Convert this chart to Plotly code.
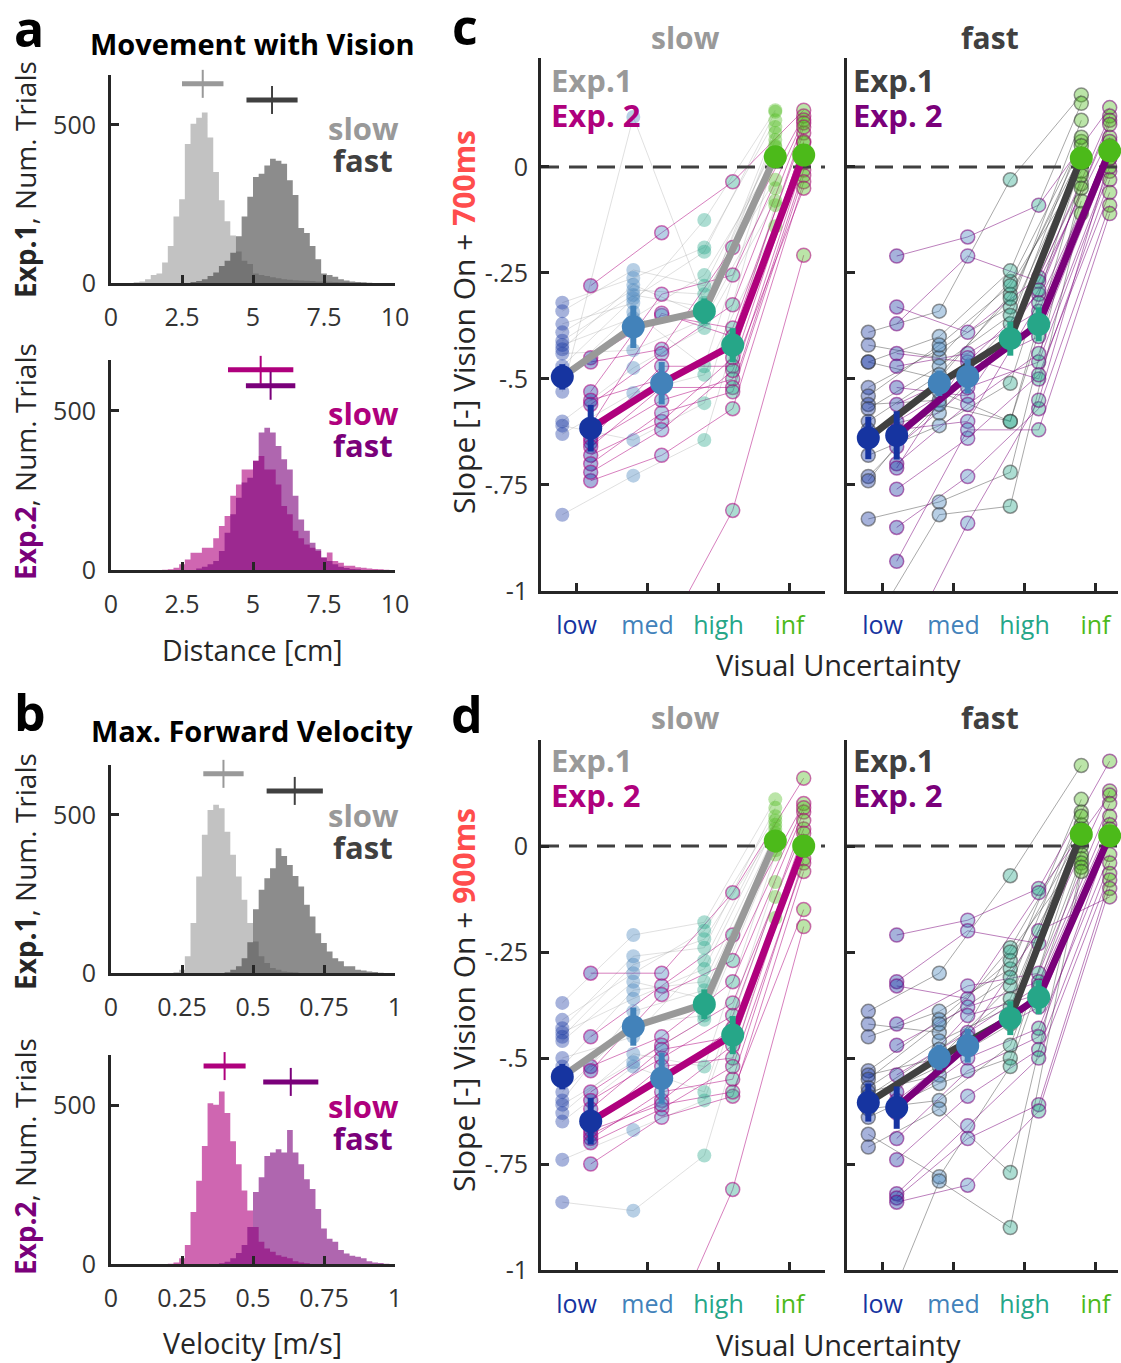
import plotly.graph_objects as go

W, H = 1121, 1363
FONT = "Open Sans"
TXT = "#262626"


def fx(px):
    return px / W


def fy(py):
    return 1 - py / H


# ------------------------------------------------------------------ data
dist_bin = 0.2
vel_bin = 0.02

# Exp.1 distance (cm), 50 bins 0..10
dist_e1_slow = [0, 0, 0, 0, 2, 5, 12, 25, 30, 65, 117, 210, 265, 440, 504, 523, 539, 460, 351, 262,
                195, 150, 100, 70, 60, 30, 25, 22, 18, 15, 12, 10, 9, 8, 7, 6, 5, 5, 4, 3,
                2, 2, 1, 1, 0, 0, 0, 0, 0, 0]
dist_e1_fast = [0, 0, 0, 0, 0, 0, 0, 0, 0, 0, 0, 0, 0, 0, 3, 6, 12, 22, 33, 54,
                70, 96, 148, 210, 273, 335, 346, 372, 393, 387, 377, 325, 278, 174, 158, 117, 75, 30, 25, 20,
                12, 8, 5, 3, 2, 1, 0, 0, 0, 0]
# Exp.2 distance (cm)
dist_e2_slow = [0, 0, 0, 0, 0, 0, 0, 0, 0, 1, 2, 7, 18, 33, 54, 54, 70, 70, 100, 138,
                170, 233, 269, 316, 316, 343, 358, 316, 316, 269, 201, 175, 123, 100, 80, 70, 60, 39, 55, 28,
                23, 13, 13, 9, 7, 5, 3, 2, 1, 0]
dist_e2_fast = [0, 0, 0, 0, 0, 0, 0, 0, 0, 0, 0, 0, 0, 0, 0, 5, 10, 18, 28, 60,
                117, 175, 227, 275, 290, 343, 432, 447, 432, 390, 348, 316, 233, 159, 123, 86, 65, 39, 28, 18,
                10, 6, 3, 2, 0, 0, 0, 0, 0, 0]
# Exp.1 velocity (m/s), 50 bins 0..1
vel_e1_slow = [0, 0, 0, 0, 0, 0, 0, 0, 0, 0, 0, 2, 10, 53, 158, 305, 437, 516, 532, 521,
               447, 374, 305, 232, 158, 100, 53, 32, 16, 10, 5, 3, 2, 0, 0, 0, 0, 0, 0, 0,
               0, 0, 0, 0, 0, 0, 0, 0, 0, 0]
vel_e1_fast = [0, 0, 0, 0, 0, 0, 0, 0, 0, 0, 0, 0, 0, 0, 0, 0, 0, 0, 0, 0,
               2, 10, 21, 47, 97, 202, 263, 300, 331, 395, 370, 342, 307, 274, 216, 179, 126, 95, 68, 47,
               37, 21, 21, 10, 8, 5, 3, 1, 0, 0]
# Exp.2 velocity (m/s)
vel_e2_slow = [0, 0, 0, 0, 0, 0, 0, 0, 0, 0, 1, 5, 18, 60, 164, 263, 373, 508, 503, 545,
               477, 388, 315, 232, 169, 117, 70, 49, 39, 28, 23, 18, 9, 5, 2, 0, 0, 0, 0, 0,
               0, 0, 0, 0, 0, 0, 0, 0, 0, 0]
vel_e2_fast = [0, 0, 0, 0, 0, 0, 0, 0, 0, 0, 0, 0, 0, 0, 0, 0, 0, 0, 0, 2,
               7, 18, 35, 60, 117, 227, 274, 341, 352, 362, 352, 423, 352, 315, 268, 237, 174, 112, 80, 70,
               44, 33, 26, 23, 18, 9, 5, 3, 1, 0]

# mean and SD of each histogram (slow, fast)
dist_e1_mean = [3.23, 5.67]
dist_e1_sd = [0.73, 0.9]
dist_e2_mean = [5.27, 5.62]
dist_e2_sd = [1.15, 0.87]
vel_e1_mean = [0.396, 0.647]
vel_e1_sd = [0.071, 0.099]
vel_e2_mean = [0.40, 0.633]
vel_e2_sd = [0.074, 0.097]

levels = ["low", "med", "high", "inf"]

# per-subject slopes: [low, med, high, inf] lists
c_slow_exp1 = [
    [-0.32, -0.34, -0.37, -0.39, -0.41, -0.42, -0.43, -0.44, -0.47, -0.5, -0.53, -0.6, -0.61, -0.63, -0.82],
    [-0.262, -0.243, -0.321, -0.29, -0.302, -0.356, -0.278, -0.432, -0.31, -0.342, 0.118, -0.474, -0.644, -0.533, -0.728],
    [-0.19, -0.28, -0.125, -0.3, -0.33, -0.255, -0.35, -0.36, -0.2, -0.47, -0.32, -0.38, -0.557, -0.49, -0.644],
    [0.11, 0.05, 0.134, -0.03, 0.094, 0.02, 0.08, -0.05, 0.13, 0.047, 0.064, -0.08, 0.03, -0.14, -0.09],
]
c_slow_exp2 = [
    [-0.28, -0.45, -0.46, -0.53, -0.55, -0.56, -0.61, -0.64, -0.65, -0.66, -0.68, -0.7, -0.74, -0.72, -1.35],
    [-0.155, -0.35, -0.43, -0.3, -0.5, -0.44, -0.345, -0.47, -0.55, -0.52, -0.6, -0.58, -0.68, -0.62, -1.12],
    [-0.035, -0.38, -0.19, -0.255, -0.43, -0.325, -0.4, -0.47, -0.5, -0.52, -0.45, -0.53, -0.57, -0.48, -0.81],
    [0.134, 0.08, 0.12, 0.111, 0.057, 0.104, 0.094, 0.03, 0.01, -0.007, 0.06, -0.02, -0.035, -0.05, -0.208],
]
c_fast_exp1 = [
    [-0.39, -0.42, -0.46, -0.46, -0.52, -0.54, -0.56, -0.57, -0.6, -0.62, -0.68, -0.73, -0.74, -0.83, -1.1],
    [-0.34, -0.45, -0.4, -0.5, -0.43, -0.42, -0.55, -0.47, -0.49, -0.58, -0.61, -0.56, -0.53, -0.79, -0.82],
    [-0.03, -0.27, -0.245, -0.3, -0.33, -0.28, -0.37, -0.35, -0.31, -0.4, -0.51, -0.6, -0.6, -0.72, -0.8],
    [0.17, 0.06, 0.15, 0.03, 0.11, -0.01, 0.07, 0.02, 0.05, -0.04, 0.01, -0.02, -0.08, -0.05, -0.11],
]
c_fast_exp2 = [
    [-0.21, -0.33, -0.37, -0.44, -0.47, -0.52, -0.56, -0.6, -0.62, -0.66, -0.7, -0.71, -0.76, -0.85, -0.93, -1.17],
    [-0.165, -0.39, -0.21, -0.46, -0.44, -0.54, -0.48, -0.5, -0.6, -0.52, -0.56, -0.45, -0.64, -0.73, -0.62, -0.84],
    [-0.09, -0.26, -0.27, -0.3, -0.34, -0.29, -0.4, -0.37, -0.32, -0.46, -0.44, -0.5, -0.49, -0.57, -0.62, -0.55],
    [0.14, 0.12, 0.07, 0.11, 0.05, 0.1, 0.02, 0.06, 0.04, -0.01, 0.0, -0.03, -0.06, -0.09, -0.11, 0.02],
]
d_slow_exp1 = [
    [-0.37, -0.41, -0.43, -0.44, -0.45, -0.46, -0.5, -0.52, -0.58, -0.6, -0.61, -0.63, -0.65, -0.74, -0.84],
    [-0.21, -0.3, -0.26, -0.36, -0.28, -0.32, -0.45, -0.34, -0.42, -0.39, -0.51, -0.49, -0.52, -0.67, -0.86],
    [-0.18, -0.2, -0.24, -0.29, -0.22, -0.36, -0.27, -0.32, -0.4, -0.34, -0.41, -0.52, -0.58, -0.6, -0.73],
    [0.11, 0.07, 0.09, 0.05, 0.04, 0.0, 0.06, 0.03, 0.01, 0.02, -0.01, -0.02, -0.085, -0.12, -0.17],
]
d_slow_exp2 = [
    [-0.3, -0.45, -0.52, -0.53, -0.58, -0.6, -0.62, -0.64, -0.66, -0.68, -0.69, -0.7, -0.75, -0.67, -1.3],
    [-0.3, -0.33, -0.45, -0.35, -0.47, -0.5, -0.48, -0.55, -0.52, -0.6, -0.58, -0.62, -0.64, -0.61, -1.19],
    [-0.11, -0.21, -0.32, -0.27, -0.37, -0.4, -0.45, -0.43, -0.5, -0.47, -0.55, -0.52, -0.59, -0.58, -0.81],
    [0.16, 0.1, 0.08, 0.09, 0.04, 0.06, 0.03, 0.0, 0.01, -0.01, -0.03, -0.04, -0.06, -0.15, -0.19],
]
d_fast_exp1 = [
    [-0.39, -0.42, -0.45, -0.53, -0.54, -0.55, -0.57, -0.58, -0.59, -0.6, -0.62, -0.64, -0.68, -0.71, -1.2],
    [-0.3, -0.44, -0.39, -0.41, -0.5, -0.42, -0.46, -0.54, -0.48, -0.52, -0.6, -0.56, -0.78, -0.62, -0.79],
    [-0.07, -0.24, -0.29, -0.27, -0.33, -0.31, -0.38, -0.25, -0.36, -0.42, -0.47, -0.5, -0.52, -0.77, -0.9],
    [0.19, 0.05, 0.11, 0.03, 0.08, 0.0, 0.07, -0.02, 0.04, 0.01, -0.03, 0.02, -0.04, -0.05, -0.06],
]
d_fast_exp2 = [
    [-0.21, -0.32, -0.33, -0.42, -0.47, -0.54, -0.58, -0.6, -0.62, -0.69, -0.74, -0.82, -0.83, -0.84, -0.63],
    [-0.175, -0.2, -0.36, -0.33, -0.38, -0.44, -0.4, -0.47, -0.5, -0.53, -0.59, -0.66, -0.69, -0.8, -0.45],
    [-0.1, -0.23, -0.11, -0.3, -0.32, -0.33, -0.35, -0.38, -0.43, -0.45, -0.48, -0.5, -0.61, -0.625, -0.2],
    [0.2, 0.13, 0.12, 0.1, 0.07, 0.05, 0.04, 0.03, -0.02, 0.02, -0.04, -0.065, -0.08, -0.1, -0.12],
]

# group means and standard errors [low, med, high, inf]
c_slow_exp1_mean = [-0.495, -0.377, -0.34, 0.024]
c_slow_exp2_mean = [-0.616, -0.51, -0.42, 0.028]
c_fast_exp1_mean = [-0.639, -0.51, -0.405, 0.021]
c_fast_exp2_mean = [-0.633, -0.494, -0.371, 0.038]
d_slow_exp1_mean = [-0.544, -0.426, -0.373, 0.012]
d_slow_exp2_mean = [-0.649, -0.548, -0.446, 0.0]
d_fast_exp1_mean = [-0.605, -0.499, -0.406, 0.028]
d_fast_exp2_mean = [-0.617, -0.471, -0.357, 0.024]
c_slow_exp1_se = [0.03, 0.05, 0.03, 0.02]
c_slow_exp2_se = [0.055, 0.05, 0.04, 0.02]
c_fast_exp1_se = [0.05, 0.03, 0.04, 0.02]
c_fast_exp2_se = [0.057, 0.04, 0.04, 0.02]
d_slow_exp1_se = [0.03, 0.045, 0.035, 0.02]
d_slow_exp2_se = [0.055, 0.06, 0.045, 0.02]
d_fast_exp1_se = [0.045, 0.03, 0.04, 0.02]
d_fast_exp2_se = [0.05, 0.04, 0.04, 0.02]

# ------------------------------------------------------------------ styles
LEVEL_RGB = [(22, 52, 160), (66, 130, 186), (38, 166, 136), (76, 186, 26)]
E1_SLOW = (153, 153, 153)
E2_SLOW = (175, 0, 125)
E1_FAST = (64, 64, 64)
E2_FAST = (122, 0, 122)


def rgba(c, a=1.0):
    return "rgba(%d,%d,%d,%.3f)" % (c[0], c[1], c[2], a)


fig = go.Figure()

# ------------------------------------------------------------------ histograms
hist_panels = [
    (1, dist_e1_slow, dist_e1_fast, dist_bin, E1_SLOW, E1_FAST, dist_e1_mean, dist_e1_sd, (630, 579)),
    (2, dist_e2_slow, dist_e2_fast, dist_bin, E2_SLOW, E2_FAST, dist_e2_mean, dist_e2_sd, (629, 579)),
    (3, vel_e1_slow, vel_e1_fast, vel_bin, E1_SLOW, E1_FAST, vel_e1_mean, vel_e1_sd, (630, 576)),
    (4, vel_e2_slow, vel_e2_fast, vel_bin, E2_SLOW, E2_FAST, vel_e2_mean, vel_e2_sd, (625, 575)),
]
for idx, cs, cf, bw, colS, colF, means, sds, ybar in hist_panels:
    xa = "x" if idx == 1 else "x%d" % idx
    ya = "y" if idx == 1 else "y%d" % idx
    for counts, col in ((cs, colS), (cf, colF)):
        edges = [i * bw for i in range(len(counts) + 1)]
        fig.add_trace(go.Scatter(
            x=edges, y=list(counts) + [counts[-1]], mode="lines", line=dict(width=0, shape="hv"),
            fill="tozeroy", fillcolor=rgba(col, 0.6), xaxis=xa, yaxis=ya, showlegend=False,
            hoverinfo="skip"))
    for m, s, yb, col in ((means[0], sds[0], ybar[0], colS), (means[1], sds[1], ybar[1], colF)):
        fig.add_trace(go.Scatter(
            x=[m], y=[yb], mode="markers",
            marker=dict(symbol="line-ns", size=20, line=dict(width=2, color=rgba(col))),
            error_x=dict(type="data", array=[s], thickness=5, width=0, color=rgba(col)),
            xaxis=xa, yaxis=ya, showlegend=False, cliponaxis=False))

# ------------------------------------------------------------------ slope panels
slope_panels = [
    (5, c_slow_exp1, c_slow_exp2, c_slow_exp1_mean, c_slow_exp2_mean, c_slow_exp1_se, c_slow_exp2_se, E1_SLOW, E2_SLOW, False),
    (6, c_fast_exp1, c_fast_exp2, c_fast_exp1_mean, c_fast_exp2_mean, c_fast_exp1_se, c_fast_exp2_se, E1_FAST, E2_FAST, True),
    (7, d_slow_exp1, d_slow_exp2, d_slow_exp1_mean, d_slow_exp2_mean, d_slow_exp1_se, d_slow_exp2_se, E1_SLOW, E2_SLOW, False),
    (8, d_fast_exp1, d_fast_exp2, d_fast_exp1_mean, d_fast_exp2_mean, d_fast_exp1_se, d_fast_exp2_se, E1_FAST, E2_FAST, True),
]
OFFS = (-0.2, 0.2)
for idx, s1, s2, m1, m2, se1, se2, c1, c2, fast in slope_panels:
    xa, ya = "x%d" % idx, "y%d" % idx
    groups = [(s1, c1, OFFS[0], True), (s2, c2, OFFS[1], False)]
    for subj, col, off, is1 in groups:
        xs, ys = [], []
        n = len(subj[0])
        for i in range(n):
            for k in range(4):
                xs.append(k + 1 + off)
                ys.append(subj[k][i])
            xs.append(None)
            ys.append(None)
        if is1:
            lc = rgba(col, 0.45 if fast else 0.3)
        else:
            lc = rgba(col, 0.5)
        fig.add_trace(go.Scatter(x=xs, y=ys, mode="lines", line=dict(color=lc, width=1),
                                 xaxis=xa, yaxis=ya, showlegend=False, hoverinfo="skip"))
    for subj, col, off, is1 in groups:
        xs, ys, cols = [], [], []
        for k in range(4):
            for v in subj[k]:
                xs.append(k + 1 + off)
                ys.append(v)
                cols.append(rgba(LEVEL_RGB[k], 0.38))
        if is1 and not fast:
            ml = dict(width=0)
        else:
            ml = dict(width=1.5, color=rgba(col, 0.55))
        fig.add_trace(go.Scatter(x=xs, y=ys, mode="markers",
                                 marker=dict(size=14, color=cols, line=ml),
                                 xaxis=xa, yaxis=ya, showlegend=False, hoverinfo="skip"))
    fig.add_trace(go.Scatter(x=[0.5, 4.5], y=[0, 0], mode="lines",
                             line=dict(color="#404040", width=3, dash="18px,10px"),
                             xaxis=xa, yaxis=ya, showlegend=False, hoverinfo="skip"))
    for means, col, off in ((m1, c1, OFFS[0]), (m2, c2, OFFS[1])):
        fig.add_trace(go.Scatter(x=[k + 1 + off for k in range(4)], y=means, mode="lines",
                                 line=dict(color=rgba(col), width=7),
                                 xaxis=xa, yaxis=ya, showlegend=False, hoverinfo="skip"))
    for means, ses, off in ((m1, se1, OFFS[0]), (m2, se2, OFFS[1])):
        for k in range(4):
            fig.add_trace(go.Scatter(
                x=[k + 1 + off], y=[means[k]], mode="markers",
                marker=dict(size=23, color=rgba(LEVEL_RGB[k])),
                error_y=dict(type="data", array=[ses[k]], thickness=6, width=0, color=rgba(LEVEL_RGB[k])),
                xaxis=xa, yaxis=ya, showlegend=False, cliponaxis=False, hoverinfo="skip"))

# ------------------------------------------------------------------ axes
AX = dict(showline=True, linewidth=3, linecolor=TXT, ticks="inside", ticklen=8, tickwidth=3,
          tickcolor=TXT, showgrid=False, zeroline=False, mirror=False, automargin=False,
          tickfont=dict(family=FONT, size=25, color="#333333"))

layout = dict(template="none", width=W, height=H, margin=dict(l=0, r=0, t=0, b=0, pad=0),
              plot_bgcolor="white", paper_bgcolor="white", showlegend=False,
              font=dict(family=FONT, color=TXT))

hist_geo = {1: (283, 75, 658), 2: (570, 360, 660), 3: (973, 765, 658), 4: (1264, 1055, 660)}
for idx, (yb, yt, ymax) in hist_geo.items():
    xk = "xaxis" if idx == 1 else "xaxis%d" % idx
    yk = "yaxis" if idx == 1 else "yaxis%d" % idx
    xr = [0, 10] if idx <= 2 else [0, 1]
    tv = [0, 2.5, 5, 7.5, 10] if idx <= 2 else [0, 0.25, 0.5, 0.75, 1]
    tt = ["0", "2.5", "5", "7.5", "10"] if idx <= 2 else ["0", "0.25", "0.5", "0.75", "1"]
    layout[xk] = dict(AX, domain=[fx(111), fx(395)], range=xr, tickvals=tv, ticktext=tt,
                      anchor="y" if idx == 1 else "y%d" % idx, ticklabelstandoff=10)
    layout[yk] = dict(AX, domain=[fy(yb), fy(yt)], range=[0, ymax], tickvals=[0, 500],
                      ticktext=["0", "500"], anchor="x" if idx == 1 else "x%d" % idx,
                      ticklabelstandoff=7)

lvl_txt = ["<span style='color:%s'>%s</span>" % (rgba(LEVEL_RGB[k]), levels[k]) for k in range(4)]
slope_geo = {5: (541, 825, 591, 58, 0.257, True), 6: (847, 1118, 591, 58, 0.257, False),
             7: (541, 825, 1270, 740, 0.25, True), 8: (847, 1118, 1270, 740, 0.25, False)}
for idx, (xl, xr_, yb, yt, ytop, lab) in slope_geo.items():
    xrng = [0.5, 0.5 + (xr_ - xl) / 71.0]
    layout["xaxis%d" % idx] = dict(AX, domain=[fx(xl), fx(xr_)], range=xrng, tickvals=[1, 2, 3, 4],
                                   ticktext=lvl_txt, anchor="y%d" % idx, ticklabelstandoff=10,
                                   tickfont=dict(family=FONT, size=25))
    layout["yaxis%d" % idx] = dict(AX, domain=[fy(yb), fy(yt)], range=[-1, ytop],
                                   tickvals=[-1, -0.75, -0.5, -0.25, 0],
                                   ticktext=["-1", "-.75", "-.5", "-.25", "0"],
                                   showticklabels=lab, anchor="x%d" % idx, ticklabelstandoff=5)

fig.update_layout(**layout)

# ------------------------------------------------------------------ annotations
ann = []


def add_text(text, x, y, size, color=TXT, bold=False, xanchor="center", angle=0):
    t = "<b>%s</b>" % text if bold else text
    ann.append(dict(text=t, x=fx(x), y=fy(y), xref="paper", yref="paper", showarrow=False,
                    xanchor=xanchor, yanchor="middle", textangle=angle,
                    font=dict(family=FONT, size=size, color=color)))


SLOW_GRAY = rgba(E1_SLOW)
FAST_GRAY = rgba(E1_FAST)
SLOW_MAG = rgba(E2_SLOW)
FAST_PUR = rgba(E2_FAST)

add_text("a", 29, 28, 50, "black", True)
add_text("b", 30, 712, 50, "black", True)
add_text("c", 465, 26, 50, "black", True)
add_text("d", 467, 714, 50, "black", True)

add_text("Movement with Vision", 252, 44, 29, "black", True)
add_text("Max. Forward Velocity", 252, 730, 29, "black", True)
add_text("Distance [cm]", 252, 650, 28.5)
add_text("Velocity [m/s]", 252, 1343, 28.5)

add_text("<b>Exp.1</b>, Num. Trials", 25, 180, 28, angle=-90)
add_text("<b><span style='color:%s'>Exp.2</span></b>, Num. Trials" % FAST_PUR, 25, 462, 28, angle=-90)
add_text("<b>Exp.1</b>, Num. Trials", 25, 872, 28, angle=-90)
add_text("<b><span style='color:%s'>Exp.2</span></b>, Num. Trials" % FAST_PUR, 25, 1157, 28, angle=-90)

for ys, cS, cF in ((128, SLOW_GRAY, FAST_GRAY), (413, SLOW_MAG, FAST_PUR),
                   (815, SLOW_GRAY, FAST_GRAY), (1106, SLOW_MAG, FAST_PUR)):
    add_text("slow", 401, ys, 31, cS, True, xanchor="right")
    add_text("fast", 395, ys + 32, 31, cF, True, xanchor="right")

for yo in (0, 680):
    add_text("slow", 685, 37 + yo, 30, SLOW_GRAY, True)
    add_text("fast", 990, 37 + yo, 30, FAST_GRAY, True)
    add_text("Exp.1", 549, 80 + yo, 31, SLOW_GRAY, True, xanchor="left")
    add_text("Exp. 2", 549, 115 + yo, 31, SLOW_MAG, True, xanchor="left")
    add_text("Exp.1", 851, 80 + yo, 31, FAST_GRAY, True, xanchor="left")
    add_text("Exp. 2", 851, 115 + yo, 31, FAST_PUR, True, xanchor="left")

add_text("Slope [-] Vision On + <b><span style='color:#ff4d4d'>700ms</span></b>", 463, 322, 30, angle=-90)
add_text("Slope [-] Vision On + <b><span style='color:#ff4d4d'>900ms</span></b>", 463, 1000, 30, angle=-90)
add_text("Visual Uncertainty", 838, 664, 29)
add_text("Visual Uncertainty", 838, 1344, 29)

fig.update_layout(annotations=ann)
fig.write_html("out.html", config={"displayModeBar": False},
               post_script="document.body.style.margin='0';document.body.style.padding='0';"
                           "document.documentElement.style.overflow='hidden';")
